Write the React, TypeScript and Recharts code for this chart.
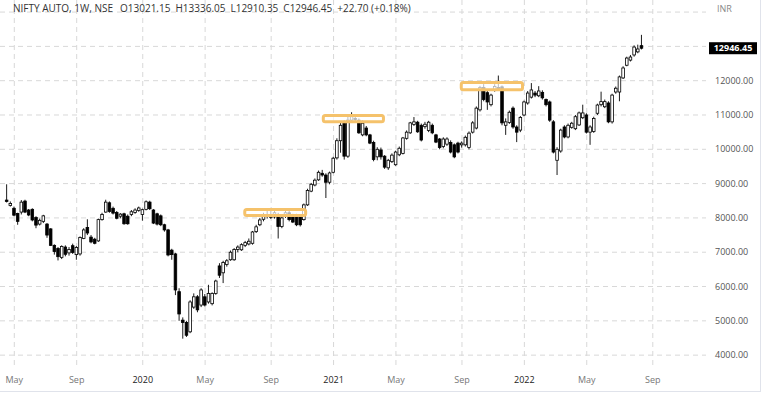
import React from "react";
import {
  ComposedChart,
  Bar,
  XAxis,
  YAxis,
  CartesianGrid,
  ReferenceArea,
  ReferenceLine,
} from "recharts";

// weekly candles, NIFTY AUTO, from the week of 22 Apr 2019 to the week of 15 Aug 2022
const opens = [
  8520, 8360, 8280, 8130, 8170, 8490, 8230, 8250, 8010, 7820, 7900, 7820, 7680, 7200, 7110, 6850, 7150, 6980, 7190, 6930,
  6950, 7400, 7720, 7440, 7380, 7330, 7950, 8170, 8440, 8280, 8160, 8050, 8120, 8050, 8100, 8160, 8220, 8100, 8250, 8460,
  8230, 8120, 8060, 7800, 7650, 7060, 6950, 5850, 5020, 4950, 4680, 5400, 5700, 5460, 5700, 5550, 5500, 5800, 6600, 6400,
  6640, 6780, 6780, 7080, 7070, 7200, 7240, 7260, 7600, 7800, 7960, 8050, 8100, 8030, 8100, 7750, 8050, 8150, 8080, 8080,
  8050, 7950, 8380, 8780, 8960, 9110, 9300, 9250, 9040, 9330, 9750, 10250, 10750, 9800, 10850, 10900, 10850, 10420, 10620, 10420,
  10200, 9780, 9980, 9800, 9460, 9640, 9550, 9840, 9880, 10320, 10480, 10720, 10790, 10700, 10660, 10550, 10700, 10420, 10300, 10080,
  10150, 10200, 10130, 10180, 10130, 10130, 10050, 10500, 10620, 11150, 11800, 11650, 11300, 11730, 11800, 11820, 10700, 10780, 11200, 10650,
  10560, 11000, 11350, 11520, 11640, 11560, 11660, 11450, 11380, 10800, 9680, 9950, 10650, 10360, 10640, 10600, 10710, 10920, 11000, 10500,
  10520, 11050, 11300, 11240, 11350, 10800, 11670, 11670, 12080, 12450, 12600, 12750, 12840, 13021.15,
];
const highs = [
  8980, 8480, 8330, 8150, 8520, 8530, 8260, 8280, 8050, 7980, 8090, 7850, 7700, 7230, 7150, 7200, 7200, 7150, 7250, 7180,
  7460, 7700, 7960, 7500, 7420, 7980, 8150, 8530, 8480, 8330, 8200, 8140, 8150, 8100, 8230, 8280, 8330, 8270, 8510, 8500,
  8260, 8150, 8100, 7830, 7680, 7100, 6980, 5950, 5100, 5000, 5600, 5800, 5750, 5950, 5780, 6050, 5830, 6200, 6680, 6750,
  6800, 7050, 7120, 7200, 7260, 7330, 7400, 7620, 7800, 8000, 8150, 8200, 8200, 8220, 8150, 8050, 8220, 8200, 8120, 8120,
  8100, 8420, 8850, 9020, 9150, 9380, 9400, 9300, 9350, 9780, 10320, 10800, 10850, 10950, 11080, 11000, 10900, 10850, 10680, 10450,
  10250, 10060, 10050, 9830, 9720, 9880, 9960, 10080, 10360, 10550, 10800, 10940, 10830, 10750, 10800, 10830, 10750, 10450, 10330, 10350,
  10350, 10260, 10170, 10220, 10230, 10400, 10520, 10820, 11250, 11850, 11900, 11700, 11620, 11900, 12150, 11860, 10900, 11130, 11250, 10700,
  10970, 11420, 11700, 11930, 11700, 11840, 11720, 11480, 11420, 10850, 10060, 10600, 10700, 10750, 10800, 11000, 11100, 11300, 11050, 10700,
  10950, 11330, 11680, 11450, 11400, 11620, 11830, 12150, 12420, 12700, 12750, 13030, 13050, 13336.05,
];
const lows = [
  8450, 8330, 8050, 7800, 8100, 8140, 8050, 7900, 7700, 7780, 7850, 7420, 7180, 6930, 6760, 6800, 6880, 6900, 6950, 6780,
  6900, 7380, 7500, 7260, 7230, 7300, 7920, 8150, 8150, 8100, 7960, 7990, 7800, 7800, 8050, 8120, 8180, 7920, 8220, 8230,
  7820, 7780, 7760, 7600, 6880, 6780, 5750, 5000, 4480, 4530, 4640, 5350, 5250, 5400, 5420, 5500, 5450, 5760, 6250, 6100,
  6580, 6750, 6750, 7000, 7040, 7150, 7200, 7220, 7560, 7760, 7900, 7980, 7970, 7980, 7400, 7700, 8000, 7900, 7850, 7760,
  7750, 7920, 8350, 8750, 8920, 9080, 9200, 8580, 8980, 9300, 9700, 9900, 9700, 9750, 10780, 10800, 10450, 10380, 10380, 10150,
  9650, 9680, 9700, 9430, 9400, 9600, 9520, 9800, 9850, 10280, 10450, 10680, 10480, 10230, 10600, 10500, 10440, 10180, 10000, 10030,
  10100, 9880, 9740, 9880, 10050, 10080, 10000, 10460, 10580, 11100, 11400, 11150, 11250, 11680, 11700, 10700, 10420, 10740, 10600, 10210,
  10500, 10960, 11300, 11480, 11520, 11520, 11450, 11250, 10800, 9880, 9250, 9900, 10320, 10320, 10600, 10560, 10680, 10880, 10460, 10130,
  10480, 11000, 11250, 11200, 10760, 10750, 11620, 11400, 12050, 12420, 12560, 12700, 12800, 12910.35,
];
const closes = [
  8480, 8420, 8080, 7900, 8460, 8170, 8085, 7940, 7790, 7930, 8060, 7500, 7200, 7020, 6870, 7170, 6940, 7080, 6990, 7140,
  7430, 7650, 7560, 7300, 7260, 7950, 8100, 8460, 8190, 8140, 7990, 8110, 7830, 7830, 8180, 8230, 8290, 8240, 8470, 8270,
  7850, 7820, 7800, 7650, 6920, 6930, 5900, 5200, 4950, 4580, 5550, 5700, 5320, 5900, 5460, 5800, 5800, 6160, 6330, 6700,
  6750, 7000, 7080, 7150, 7220, 7280, 7320, 7590, 7740, 7940, 8050, 8100, 8020, 8150, 7750, 8000, 8150, 7950, 7880, 7800,
  7800, 8380, 8800, 8980, 9100, 9330, 9250, 9040, 9310, 9740, 10250, 10700, 9800, 10850, 10950, 10870, 10480, 10760, 10420, 10180,
  9700, 10000, 9780, 9480, 9680, 9830, 9920, 10030, 10330, 10500, 10770, 10800, 10510, 10270, 10730, 10790, 10480, 10210, 10050, 10300,
  10300, 9920, 9780, 9920, 10180, 10350, 10470, 10770, 11200, 11800, 11450, 11380, 11580, 11830, 11760, 10770, 10800, 11080, 10650, 10500,
  10930, 11380, 11640, 11730, 11580, 11700, 11500, 11300, 10850, 9920, 10000, 10560, 10360, 10700, 10760, 10950, 11060, 11060, 10500, 10650,
  10900, 11290, 11390, 11390, 10800, 11580, 11780, 12110, 12370, 12660, 12690, 12980, 12923.75, 12946.45,
];

// week index of the first weekly bar of each labelled month
const tickWeeks = [2, 19, 37, 54, 72, 89, 106, 124, 141, 158, 176];
const tickLabels = ["May", "Sep", "2020", "May", "Sep", "2021", "May", "Sep", "2022", "May", "Sep"];
const priceTicks = [4000, 5000, 6000, 7000, 8000, 9000, 10000, 11000, 12000];
const gridPrices = [...priceTicks, 13000, 14000];

// highlighted consolidation zones: from week, to week, low, high
const zoneFrom = [64.8, 86.2, 123.8];
const zoneTo = [81.4, 102.6, 140.5];
const zoneLow = [8070, 10802, 11735];
const zoneHigh = [8245, 10986, 11948];

const data = opens.map((o, i) => ({
  i,
  open: o,
  high: highs[i],
  low: lows[i],
  close: closes[i],
  range: [lows[i], highs[i]],
}));

const last = data[data.length - 1];
const prevClose = closes[closes.length - 2];
const chg = last.close - prevClose;
const sign = chg >= 0 ? "+" : "";

const FONT = '"Open Sans", "Segoe UI", Arial, sans-serif';

function Candle(props: any) {
  const { x, y, width, height, payload } = props;
  if (!payload) return null;
  const { open, close, high, low } = payload;
  const top = Math.min(y, y + height);
  const h = Math.abs(height);
  const k = high === low ? 0 : h / (high - low);
  const yO = top + (high - open) * k;
  const yC = top + (high - close) * k;
  const cx = x + width / 2;
  const up = close >= open;
  const bw = 2.6;
  const bodyTop = Math.min(yO, yC);
  const bodyH = Math.max(Math.abs(yO - yC), 1);
  return (
    <g>
      <line x1={cx} x2={cx} y1={top} y2={top + h} stroke="#000" strokeWidth={0.9} />
      <rect
        x={cx - bw / 2}
        y={bodyTop}
        width={bw}
        height={bodyH}
        fill={up ? "#fff" : "#000"}
        stroke="#000"
        strokeWidth={0.8}
      />
    </g>
  );
}

function TimeTick(props: any) {
  const { x, y, payload } = props;
  const idx = tickWeeks.indexOf(payload.value);
  const label = tickLabels[idx] ?? "";
  const isYear = /^\d{4}$/.test(label);
  return (
    <text
      x={x}
      y={y + 15}
      textAnchor="middle"
      fontFamily={FONT}
      fontSize={9}
      fill={isYear ? "#222" : "#777"}
    >
      {label}
    </text>
  );
}

function PriceTick(props: any) {
  const { x, y, payload } = props;
  return (
    <text x={x + 9} y={y + 3} fontFamily={FONT} fontSize={9} fill="#555">
      {payload.value.toFixed(2)}
    </text>
  );
}

function PriceTag(props: any) {
  const vb = props.viewBox;
  if (!vb) return null;
  const x = vb.x + vb.width + 3;
  const y = vb.y;
  return (
    <g>
      <rect x={x} y={y - 6} width={48} height={12} fill="#000" />
      <text
        x={x + 24}
        y={y + 3.2}
        textAnchor="middle"
        fontFamily={FONT}
        fontSize={9}
        fontWeight={700}
        fill="#fff"
      >
        {last.close.toFixed(2)}
      </text>
    </g>
  );
}

function Zone(props: any) {
  const { x, y, width, height } = props;
  return (
    <rect
      x={x}
      y={y}
      width={width}
      height={height}
      rx={2}
      fill="#fff"
      fillOpacity={0.7}
      stroke="#f5c26b"
      strokeWidth={3}
    />
  );
}

const legendItems = [
  `O${last.open.toFixed(2)}`,
  `H${last.high.toFixed(2)}`,
  `L${last.low.toFixed(2)}`,
  `C${last.close.toFixed(2)}`,
  `${sign}${chg.toFixed(2)} (${sign}${((chg / prevClose) * 100).toFixed(2)}%)`,
];

export default function App() {
  return (
    <div
      style={{
        position: "relative",
        width: 760,
        height: 391,
        borderRight: "1px solid #e0e3eb",
        borderBottom: "1px solid #e0e3eb",
        background: "#fff",
      }}
    >
      <style>{"body{margin:0}"}</style>
      <ComposedChart
        width={760}
        height={392}
        data={data}
        margin={{ top: 0, right: 0, bottom: 0, left: 0 }}
      >
        <CartesianGrid
          stroke="#d8d8d8"
          strokeDasharray="5 4"
          horizontalValues={gridPrices}
          verticalValues={tickWeeks}
        />
        <XAxis
          dataKey="i"
          type="number"
          domain={[-1.9, 190.5]}
          allowDataOverflow
          ticks={tickWeeks}
          interval={0}
          tick={<TimeTick />}
          tickSize={0}
          tickMargin={0}
          axisLine={false}
          tickLine={false}
          height={24}
        />
        <YAxis
          orientation="right"
          type="number"
          domain={[3625, 14352]}
          allowDataOverflow
          ticks={priceTicks}
          interval={0}
          tick={<PriceTick />}
          tickSize={0}
          tickMargin={0}
          axisLine={false}
          tickLine={false}
          width={54}
        />
        <Bar
          dataKey="range"
          barSize={3}
          shape={<Candle />}
          isAnimationActive={false}
        />
        {zoneFrom.map((from, k) => (
          <ReferenceArea
            key={k}
            x1={from}
            x2={zoneTo[k]}
            y1={zoneLow[k]}
            y2={zoneHigh[k]}
            shape={<Zone />}
            zIndex={700}
          />
        ))}
        <ReferenceLine
          y={last.close}
          stroke="none"
          strokeOpacity={0}
          label={<PriceTag />}
        />
      </ComposedChart>
      <div
        style={{
          position: "absolute",
          left: 13,
          top: 1,
          fontFamily: FONT,
          fontSize: 10,
          color: "#333",
          whiteSpace: "nowrap",
          display: "flex",
        }}
      >
        <span style={{ marginRight: 7 }}>NIFTY AUTO, 1W, NSE</span>
        {legendItems.map((t) => (
          <span key={t} style={{ marginRight: 5 }}>
            {t}
          </span>
        ))}
      </div>
      <div
        style={{
          position: "absolute",
          left: 717,
          top: 2,
          fontFamily: FONT,
          fontSize: 9,
          color: "#888",
        }}
      >
        INR
      </div>
    </div>
  );
}
